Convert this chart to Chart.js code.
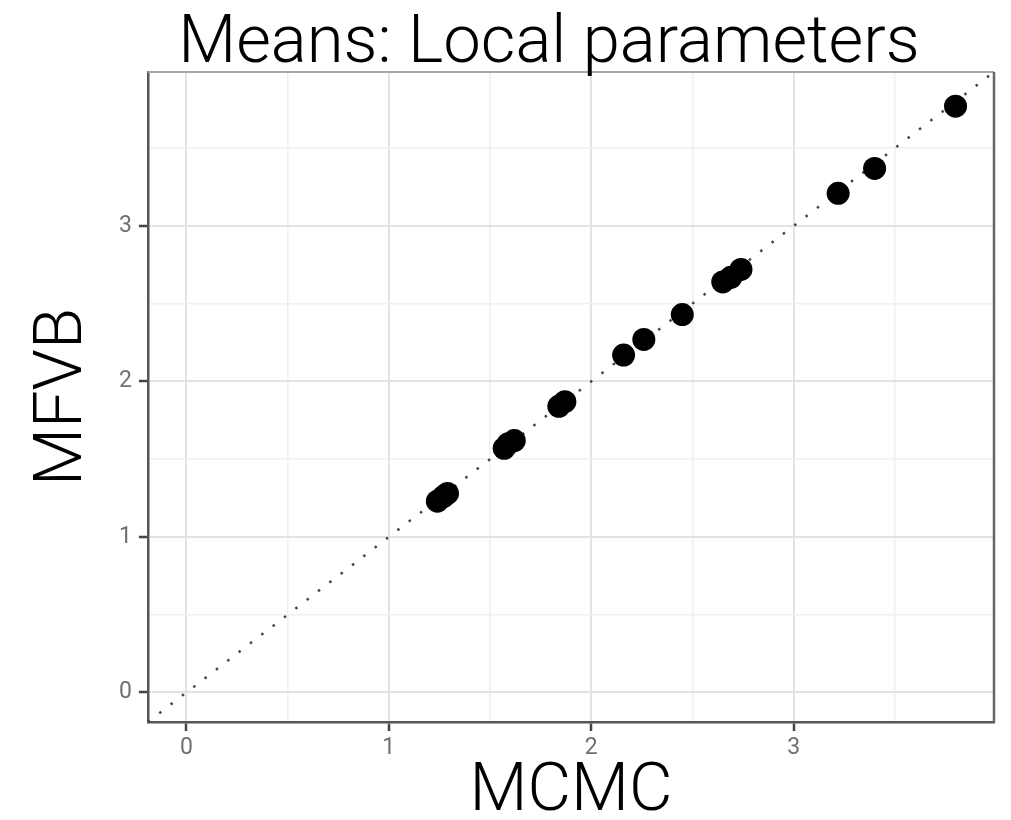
<!DOCTYPE html>
<html lang="en">
<head>
    <meta charset="UTF-8">
    <title>Means: Local parameters</title>
    <script src="https://cdn.jsdelivr.net/npm/chart.js"></script>
    <style>
        html, body { margin: 0; padding: 0; background: #fff; }
        .chart-container { width: 1011px; height: 820px; }
    </style>
</head>
<body>
    <div class="chart-container">
        <canvas id="grafico"></canvas>
    </div>

    <script>
        // valores (MCMC vs MFVB)
        const mcmc = [1.24, 1.27, 1.29, 1.57, 1.59, 1.62, 1.84, 1.87, 2.16, 2.26, 2.45, 2.65, 2.69, 2.74, 3.22, 3.40, 3.80];
        const mfvb = [1.23, 1.26, 1.28, 1.57, 1.60, 1.62, 1.84, 1.87, 2.17, 2.27, 2.43, 2.64, 2.67, 2.72, 3.21, 3.37, 3.77];
        const axisMin = -0.19;
        const axisMax = 3.99;
        const tickLabels = ['0', '1', '2', '3'];

        const puntos = mcmc.map((x, i) => ({ x: x, y: mfvb[i] }));
        const diagonal = [{ x: axisMin, y: axisMin }, { x: axisMax, y: axisMax }];

        const esEntero = v => Math.abs(v - Math.round(v)) < 1e-9;

        // titulo y borde del panel
        const extras = {
            id: 'extras',
            afterDraw(chart) {
                const { ctx, chartArea: a } = chart;
                ctx.save();
                ctx.lineWidth = 2;
                ctx.strokeStyle = '#a8a8a8';
                ctx.beginPath();
                ctx.moveTo(a.left, a.top);
                ctx.lineTo(a.right, a.top);
                ctx.stroke();
                ctx.lineWidth = 2.5;
                ctx.strokeStyle = '#666';
                ctx.beginPath();
                ctx.moveTo(a.right, a.top);
                ctx.lineTo(a.right, a.bottom);
                ctx.stroke();
                ctx.fillStyle = '#000';
                ctx.font = '300 67px Roboto';
                ctx.textAlign = 'center';
                ctx.textBaseline = 'alphabetic';
                ctx.fillText('Means: Local parameters', 549, 62);
                ctx.restore();
            }
        };

        const gridOpts = {
            color: c => esEntero(c.tick.value) ? '#e3e3e3' : '#f0f0f0',
            lineWidth: c => esEntero(c.tick.value) ? 2 : 1.5,
            tickColor: c => esEntero(c.tick.value) ? '#444' : 'rgba(0,0,0,0)',
            tickWidth: 2.5,
            tickLength: 9,
        };
        const tickOpts = {
            stepSize: 0.5,
            includeBounds: false,
            color: '#707070',
            font: { family: 'Roboto', size: 23, lineHeight: 1 },
            callback: v => esEntero(v) ? tickLabels[Math.round(v)] : '',
        };

        new Chart(document.getElementById('grafico'), {
            type: 'scatter',
            data: {
                datasets: [
                    {
                        type: 'line',
                        data: diagonal,
                        borderColor: '#444',
                        borderWidth: 2.5,
                        borderDash: [2.5, 11.8],
                        pointRadius: 0,
                        fill: false,
                        clip: 0,
                        order: 2,
                    },
                    {
                        data: puntos,
                        backgroundColor: '#000',
                        borderWidth: 0,
                        pointRadius: 11.5,
                        order: 1,
                    },
                ]
            },
            options: {
                responsive: true,
                maintainAspectRatio: false,
                animation: false,
                layout: { padding: { top: 72, right: 17, left: 0, bottom: 0 } },
                plugins: {
                    legend: { display: false },
                    tooltip: { enabled: false },
                },
                scales: {
                    x: {
                        type: 'linear',
                        min: axisMin,
                        max: axisMax,
                        grid: gridOpts,
                        border: { color: '#555', width: 2.5 },
                        ticks: Object.assign({ padding: 6, maxRotation: 0, autoSkip: false }, tickOpts),
                        title: {
                            display: true,
                            text: 'MCMC',
                            color: '#000',
                            font: { family: 'Roboto', weight: 300, size: 67, lineHeight: 1 },
                            padding: { top: -6, bottom: -7 },
                        },
                    },
                    y: {
                        type: 'linear',
                        min: axisMin,
                        max: axisMax,
                        grid: gridOpts,
                        border: { color: '#555', width: 2.5 },
                        ticks: Object.assign({ padding: 7, autoSkip: false }, tickOpts),
                        title: {
                            display: true,
                            text: 'MFVB',
                            color: '#000',
                            font: { family: 'Roboto', weight: 300, size: 67, lineHeight: 1 },
                            padding: { top: 31, bottom: 14 },
                        },
                    },
                }
            },
            plugins: [extras]
        });
    </script>
</body>
</html>
